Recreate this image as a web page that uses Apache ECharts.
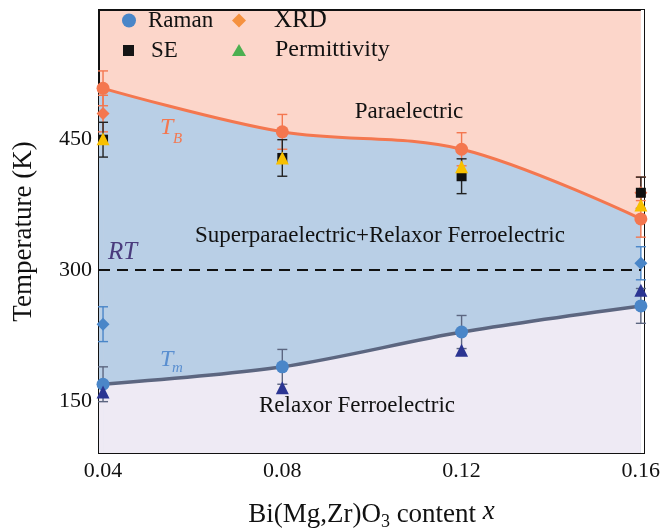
<!DOCTYPE html>
<html>
<head>
<meta charset="utf-8">
<script src="https://cdn.jsdelivr.net/npm/echarts@6/dist/echarts.min.js"></script>
<style>
  html, body { margin: 0; padding: 0; background: #ffffff; }
  #chart { width: 661px; height: 529px; }
</style>
</head>
<body>
<div id="chart"></div>
<script>
// Composition x of Bi(Mg,Zr)O3 and measured transition temperatures (K)
const compositions = [0.04, 0.08, 0.12, 0.16];
const xTicks = [0.04, 0.08, 0.12, 0.16];
const yTicks = [150, 300, 450];

// Raman: Burns temperature T_B and T_m
const ramanTB = [509, 459, 439, 359];
const ramanTBErr = [20, 20, 19, 21];
const ramanTm = [169, 189, 229, 259];
const ramanTmErr = [20, 20, 19, 20];

// XRD: upper and lower anomalies (only at x = 0.04 and 0.16)
const xrdX = [0.04, 0.16];
const xrdUpper = [480, 389];
const xrdUpperErr = [21, 18];
const xrdLower = [238, 308];
const xrdLowerErr = [20, 19];

// Spectroscopic ellipsometry
const seT = [450, 429, 408, 389];
const seErr = [20, 21, 20, 18];

// Dielectric permittivity anomalies
const permUpper = [451, 429, 419, 375];
const permLower = [160, 165, 208, 277];

// Room temperature reference
const roomT = 300;

const X_MIN = 0.0391, X_MAX = 0.1607;
const Y_MIN = 90, Y_MAX = 599;

const SERIF = "'Liberation Serif', 'Times New Roman', 'DejaVu Serif', serif";
const ORANGE = '#f4774f';
const YELLOW = '#f8c000';
const BLUE = '#4a86c8';
const NAVY = '#2b3592';
const GREY = '#5c6680';
const PEACH = '#fcd6ca';
const SKY = '#b9cfe6';
const LAVENDER = '#eeeaf4';

const pairs = (xs, ys) => xs.map((x, i) => [x, ys[i]]);

function errorBars(name, xs, centers, errs, color) {
  return {
    type: 'custom',
    name: name,
    z: 3,
    clip: false,
    silent: true,
    data: xs.map((x, i) => [x, centers[i] - errs[i], centers[i] + errs[i]]),
    encode: { x: 0, y: [1, 2] },
    renderItem: function (params, api) {
      const lo = api.coord([api.value(0), api.value(1)]);
      const hi = api.coord([api.value(0), api.value(2)]);
      const w = 5;
      const st = { stroke: color, lineWidth: 1.4 };
      return {
        type: 'group',
        children: [
          { type: 'line', shape: { x1: lo[0], y1: lo[1], x2: hi[0], y2: hi[1] }, style: st },
          { type: 'line', shape: { x1: lo[0] - w, y1: lo[1], x2: lo[0] + w, y2: lo[1] }, style: st },
          { type: 'line', shape: { x1: hi[0] - w, y1: hi[1], x2: hi[0] + w, y2: hi[1] }, style: st }
        ]
      };
    }
  };
}

function markers(name, xs, ys, symbol, size, color, z) {
  return {
    type: 'scatter',
    name: name,
    symbol: symbol,
    symbolSize: size,
    clip: false,
    z: z,
    itemStyle: { color: color, opacity: 1 },
    data: pairs(xs, ys)
  };
}

function legendBox(name, icon, color, left, top, w, h, size, pad) {
  return {
    data: [{ name: name, icon: icon, itemStyle: { color: color } }],
    left: left, top: top, padding: 0,
    itemWidth: w, itemHeight: h,
    selectedMode: false,
    textStyle: { fontFamily: SERIF, fontSize: size, color: '#111', padding: [0, 0, 0, pad] }
  };
}

const chart = echarts.init(document.getElementById('chart'), null, { renderer: 'canvas' });

const option = {
  animation: false,
  backgroundColor: '#ffffff',
  grid: {
    left: 99, right: 17, top: 10, bottom: 76,
    containLabel: false,
    outerBoundsMode: 'none',
    show: true, backgroundColor: PEACH, borderColor: '#111', borderWidth: 2
  },
  legend: [
    legendBox('Raman', 'circle', BLUE, 122, 9, 14, 14, 23, 7),
    legendBox('XRD', 'diamond', '#f5913f', 232, 8, 14, 14, 25, 23),
    legendBox('SE', 'rect', '#151515', 123, 39, 11, 11, 23, 12),
    legendBox('Permittivity', 'triangle', '#4caf50', 232, 38, 14, 12, 24, 24)
  ],
  xAxis: {
    type: 'value',
    min: X_MIN, max: X_MAX,
    name: 'Bi(Mg,Zr)O{sub|3} content {it|x}',
    nameLocation: 'middle',
    nameGap: 45,
    nameTextStyle: {
      fontFamily: SERIF, fontSize: 27, color: '#111', verticalAlign: 'top',
      rich: {
        sub: { fontFamily: SERIF, fontSize: 18, color: '#111', verticalAlign: 'top', padding: [15, 0, 0, 0] },
        it: { fontFamily: SERIF, fontSize: 27, fontStyle: 'italic', color: '#111', verticalAlign: 'top' }
      }
    },
    axisLine: { show: true, lineStyle: { color: '#111', width: 2 } },
    axisTick: { show: true, inside: true, length: 10, customValues: xTicks, lineStyle: { color: '#111', width: 1.5 } },
    axisLabel: {
      customValues: xTicks, margin: 7,
      fontFamily: SERIF, fontSize: 22, color: '#111',
      formatter: v => v.toFixed(2)
    },
    splitLine: { show: false }
  },
  yAxis: {
    type: 'value',
    min: Y_MIN, max: Y_MAX,
    name: 'Temperature (K)',
    nameLocation: 'middle',
    nameGap: 62,
    nameTextStyle: { fontFamily: SERIF, fontSize: 27, color: '#111' },
    axisLine: { show: true, lineStyle: { color: '#111', width: 2 } },
    axisTick: { show: true, inside: true, length: 7, customValues: yTicks, lineStyle: { color: '#111', width: 1.5 } },
    axisLabel: { customValues: yTicks, margin: 7, fontFamily: SERIF, fontSize: 22, color: '#111' },
    splitLine: { show: false }
  },
  series: [
    // T_B boundary: region between T_B and T_m
    {
      type: 'line', name: 'T_B boundary', smooth: 0.35, symbol: 'none', z: 1,
      lineStyle: { color: ORANGE, width: 3 },
      areaStyle: { color: SKY, opacity: 1, origin: 'start' },
      data: pairs(compositions, ramanTB),
      markArea: {
        silent: true,
        data: [
          [{ xAxis: X_MIN, yAxis: ramanTm[0], itemStyle: { color: SKY, opacity: 1 } },
           { xAxis: compositions[0], yAxis: ramanTB[0] }],
          // thin unshaded margin along the right frame
          [{ xAxis: compositions[3], yAxis: Y_MIN, itemStyle: { color: '#ffffff', opacity: 1 } },
           { xAxis: X_MAX, yAxis: Y_MAX }]
        ]
      }
    },
    // T_m boundary: relaxor region below
    {
      type: 'line', name: 'T_m boundary', smooth: 0.3, symbol: 'none', z: 2,
      lineStyle: { color: GREY, width: 3.5 },
      areaStyle: { color: LAVENDER, opacity: 1, origin: 'start' },
      data: pairs(compositions, ramanTm),
      markArea: {
        silent: true,
        itemStyle: { color: LAVENDER, opacity: 1 },
        data: [[{ xAxis: X_MIN, yAxis: Y_MIN }, { xAxis: compositions[0], yAxis: ramanTm[0] }]]
      },
      markLine: {
        silent: true, symbol: 'none', animation: false,
        label: { show: false },
        lineStyle: { color: '#111', type: [11, 7], width: 2 },
        data: [[{ coord: [X_MIN, roomT] }, { coord: [compositions[3], roomT] }]]
      }
    },
    errorBars('Raman TB error', compositions, ramanTB, ramanTBErr, ORANGE),
    errorBars('Raman Tm error', compositions, ramanTm, ramanTmErr, GREY),
    errorBars('XRD upper error', xrdX, xrdUpper, xrdUpperErr, ORANGE),
    errorBars('XRD lower error', xrdX, xrdLower, xrdLowerErr, BLUE),
    errorBars('SE error', compositions, seT, seErr, '#222'),
    markers('XRD', xrdX, xrdUpper, 'diamond', 13, ORANGE, 4),
    markers('XRD', xrdX, xrdLower, 'diamond', 13, BLUE, 4),
    markers('SE', compositions, seT, 'rect', 10, '#111', 5),
    markers('Raman', compositions, ramanTB, 'circle', 13, ORANGE, 6),
    markers('Raman', compositions, ramanTm, 'circle', 13, BLUE, 6),
    markers('Permittivity', compositions, permUpper, 'triangle', 13, YELLOW, 7),
    markers('Permittivity', compositions, permLower, 'triangle', 13, NAVY, 7)
  ],
  graphic: [
    { type: 'text', z: 100, style: { text: 'Paraelectric', x: 409, y: 112, align: 'center', verticalAlign: 'middle', font: '23px ' + SERIF, fill: '#111' } },
    { type: 'text', z: 100, style: { text: 'Superparaelectric+Relaxor Ferroelectric', x: 380, y: 236, align: 'center', verticalAlign: 'middle', font: '23px ' + SERIF, fill: '#111' } },
    { type: 'text', z: 100, style: { text: 'Relaxor Ferroelectric', x: 357, y: 406, align: 'center', verticalAlign: 'middle', font: '23px ' + SERIF, fill: '#111' } },
    { type: 'text', z: 100, style: { text: 'T', x: 160, y: 128, align: 'left', verticalAlign: 'middle', font: 'italic 24px ' + SERIF, fill: ORANGE } },
    { type: 'text', z: 100, style: { text: 'B', x: 173, y: 139, align: 'left', verticalAlign: 'middle', font: 'italic 15px ' + SERIF, fill: ORANGE } },
    { type: 'text', z: 100, style: { text: 'RT', x: 108, y: 252, align: 'left', verticalAlign: 'middle', font: 'italic 25px ' + SERIF, fill: '#4a3b7d' } },
    { type: 'text', z: 100, style: { text: 'T', x: 160, y: 360, align: 'left', verticalAlign: 'middle', font: 'italic 24px ' + SERIF, fill: '#5a8fd0' } },
    { type: 'text', z: 100, style: { text: 'm', x: 172, y: 368, align: 'left', verticalAlign: 'middle', font: 'italic 15px ' + SERIF, fill: '#5a8fd0' } }
  ]
};

chart.setOption(option);
</script>
</body>
</html>
